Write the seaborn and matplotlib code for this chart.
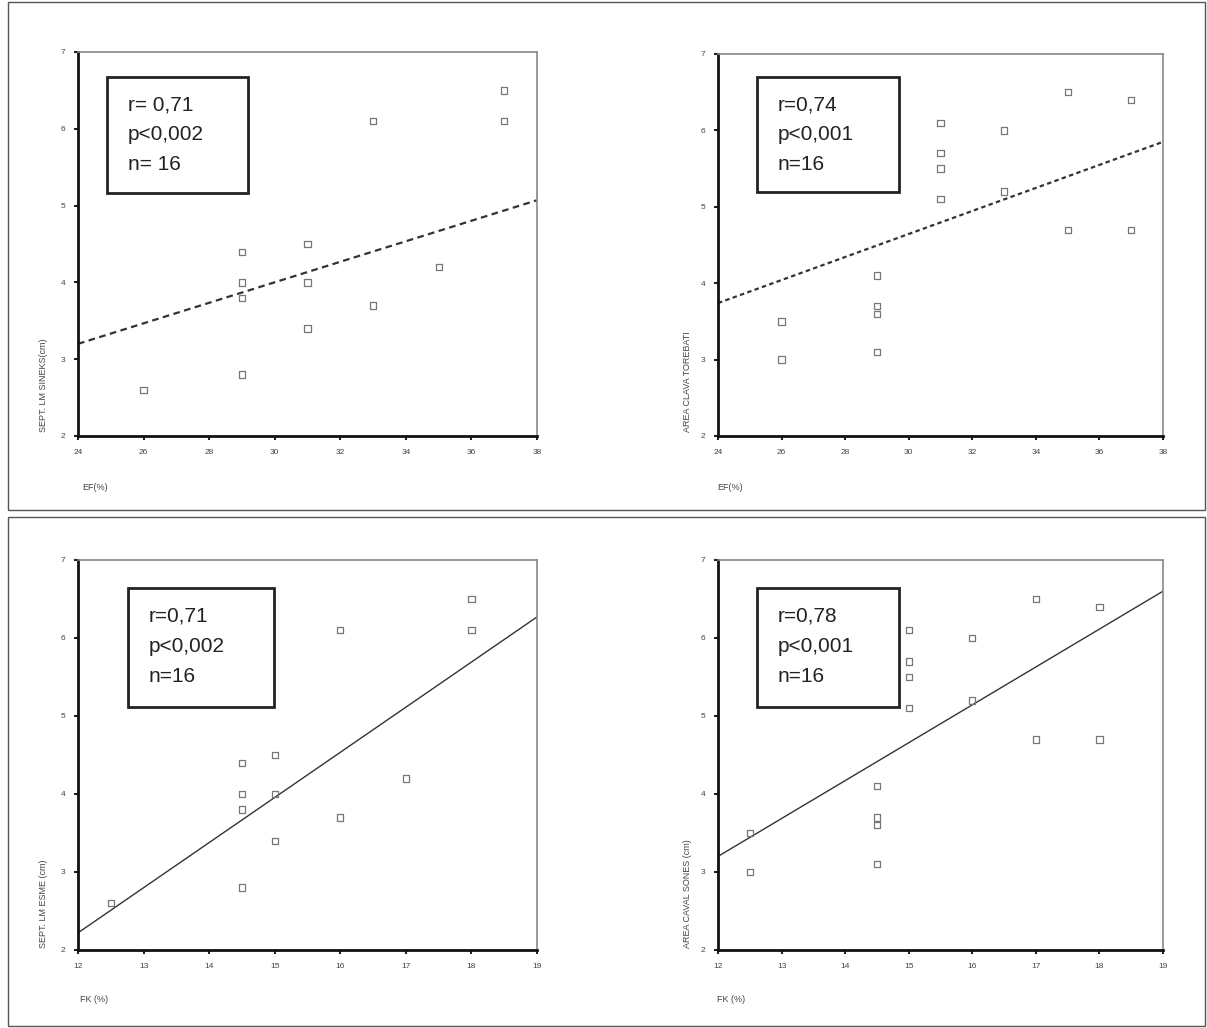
import matplotlib
matplotlib.use("Agg")
import matplotlib.pyplot as plt
import seaborn as sns
import pandas as pd
from matplotlib.patches import Rectangle

sns.set_theme(style="white")
plt.rcParams['font.family'] = ['Liberation Sans', 'DejaVu Sans']

# ---- data ----
ef_tl = [26, 29, 29, 29, 29, 31, 31, 31, 33, 33, 35, 37, 37]
sept_tl = [2.6, 4.4, 4.0, 3.8, 2.8, 4.5, 4.0, 3.4, 6.1, 3.7, 4.2, 6.5, 6.1]
fit_x_tl = [24, 38]
fit_y_tl = [3.2, 5.07]

ef_tr = [26, 26, 29, 29, 29, 29, 31, 31, 31, 31, 33, 33, 35, 35, 37, 37]
area_tr = [3.5, 3.0, 4.1, 3.7, 3.6, 3.1, 6.1, 5.7, 5.5, 5.1, 6.0, 5.2, 6.5, 4.7, 6.4, 4.7]
fit_x_tr = [24, 38]
fit_y_tr = [3.74, 5.85]

fk_bl = [12.5, 14.5, 14.5, 14.5, 14.5, 15, 15, 15, 16, 16, 17, 18, 18]
sept_bl = [2.6, 4.4, 4.0, 3.8, 2.8, 4.5, 4.0, 3.4, 6.1, 3.7, 4.2, 6.5, 6.1]
fit_x_bl = [12, 19]
fit_y_bl = [2.22, 6.27]

fk_br = [12.5, 12.5, 15, 15, 15, 15, 14.5, 14.5, 14.5, 14.5, 16, 16, 17, 17, 18, 18]
area_br = [3.5, 3.0, 6.1, 5.7, 5.5, 5.1, 4.1, 3.7, 3.6, 3.1, 6.0, 5.2, 6.5, 4.7, 6.4, 4.7]
fit_x_br = [12, 19]
fit_y_br = [3.2, 6.6]

ef_ticks = [24, 26, 28, 30, 32, 34, 36, 38]
fk_ticks = [12, 13, 14, 15, 16, 17, 18, 19]
y_ticks = [2, 3, 4, 5, 6, 7]

stats_tl = ["r= 0,71", "p<0,002", "n= 16"]
stats_tr = ["r=0,74", "p<0,001", "n=16"]
stats_bl = ["r=0,71", "p<0,002", "n=16"]
stats_br = ["r=0,78", "p<0,001", "n=16"]

xlab_tl, xlab_tr, xlab_bl, xlab_br = "EF(%)", "EF(%)", "FK (%)", "FK (%)"
ylab_tl = "SEPT. LM SINEKS(cm)"
ylab_tr = "AREA CLAVA TOREBATI"
ylab_bl = "SEPT. LM ESME (cm)"
ylab_br = "AREA CAVAL SONES (cm)"

W, H = 1207, 1028
fig = plt.figure(figsize=(W / 100, H / 100), dpi=100)
fig.patch.set_facecolor("white")


def fx(px):
    return px / W


def fy(py):
    return 1 - py / H


# outer frames
for (x0, y0, x1, y1) in [(8, 2, 1205, 510), (8, 517, 1205, 1026)]:
    fig.add_artist(Rectangle((fx(x0), fy(y1)), fx(x1 - x0), (y1 - y0) / H,
                             transform=fig.transFigure, fill=False,
                             edgecolor="#555555", linewidth=1.0))


def panel(left, top, right, bottom, xs, ys, fx_, fy_, xticks, ls, lw,
          stats, box, xlabel, ylabel, xlab_pos, ylab_pos):
    ax = fig.add_axes([fx(left), fy(bottom), fx(right - left), (bottom - top) / H])
    df = pd.DataFrame({"x": xs, "y": ys})
    sns.scatterplot(data=df, x="x", y="y", ax=ax, marker="s", s=20,
                    facecolor="none", edgecolor="#777777", linewidth=0.9,
                    zorder=3)
    dfl = pd.DataFrame({"x": fx_, "y": fy_})
    sns.lineplot(data=dfl, x="x", y="y", ax=ax, color="#333333",
                 linewidth=lw, linestyle=ls, zorder=2)
    ax.set_xlim(xticks[0], xticks[-1])
    ax.set_ylim(y_ticks[0], y_ticks[-1])
    ax.set_xticks(xticks)
    ax.set_yticks(y_ticks)
    ax.set_xticklabels([str(t) for t in xticks], fontsize=6, color="#444444")
    ax.set_yticklabels([str(t) for t in y_ticks], fontsize=6, color="#444444")
    ax.tick_params(axis="both", direction="out", length=3, width=1.5,
                   color="#222222", pad=6, left=True, bottom=True)
    ax.set_xlabel("")
    ax.set_ylabel("")
    for s in ["left", "bottom"]:
        ax.spines[s].set_color("#111111")
        ax.spines[s].set_linewidth(2.0)
    for s in ["top", "right"]:
        ax.spines[s].set_color("#888888")
        ax.spines[s].set_linewidth(1.2)
    ax.set_facecolor("white")
    # stats box
    bx0, by0, bx1, by1 = box
    fig.add_artist(Rectangle((fx(bx0), fy(by1)), fx(bx1 - bx0), (by1 - by0) / H,
                             transform=fig.transFigure, fill=False,
                             edgecolor="#222222", linewidth=2.0, zorder=5))
    tx = bx0 + 21
    for i, line in enumerate(stats):
        fig.text(fx(tx), fy(by0 + 28 + i * 30), line, fontsize=15,
                 color="#222222", va="center", ha="left")
    fig.text(fx(xlab_pos[0]), fy(xlab_pos[1]), xlabel, fontsize=6.5,
             color="#444444", ha="left", va="center")
    fig.text(fx(ylab_pos[0]), fy(ylab_pos[1]), ylabel, fontsize=6.5,
             color="#444444", ha="center", va="bottom", rotation=90)
    return ax


panel(78, 52, 537, 436, ef_tl, sept_tl, fit_x_tl, fit_y_tl, ef_ticks,
      (0, (3, 2)), 1.6, stats_tl, (107, 77, 248, 193), xlab_tl, ylab_tl,
      (82, 487), (43, 432))
panel(718, 54, 1163, 436, ef_tr, area_tr, fit_x_tr, fit_y_tr, ef_ticks,
      (0, (2, 1.5)), 1.6, stats_tr, (757, 77, 899, 192), xlab_tr, ylab_tr,
      (717, 487), (688, 432))
panel(78, 560, 537, 950, fk_bl, sept_bl, fit_x_bl, fit_y_bl, fk_ticks,
      "-", 1.0, stats_bl, (128, 588, 274, 707), xlab_bl, ylab_bl,
      (80, 1000), (43, 948))
panel(718, 560, 1163, 950, fk_br, area_br, fit_x_br, fit_y_br, fk_ticks,
      "-", 1.0, stats_br, (757, 588, 899, 707), xlab_br, ylab_br,
      (717, 1000), (688, 948))

fig.savefig("out.png", dpi=100, facecolor="white")
